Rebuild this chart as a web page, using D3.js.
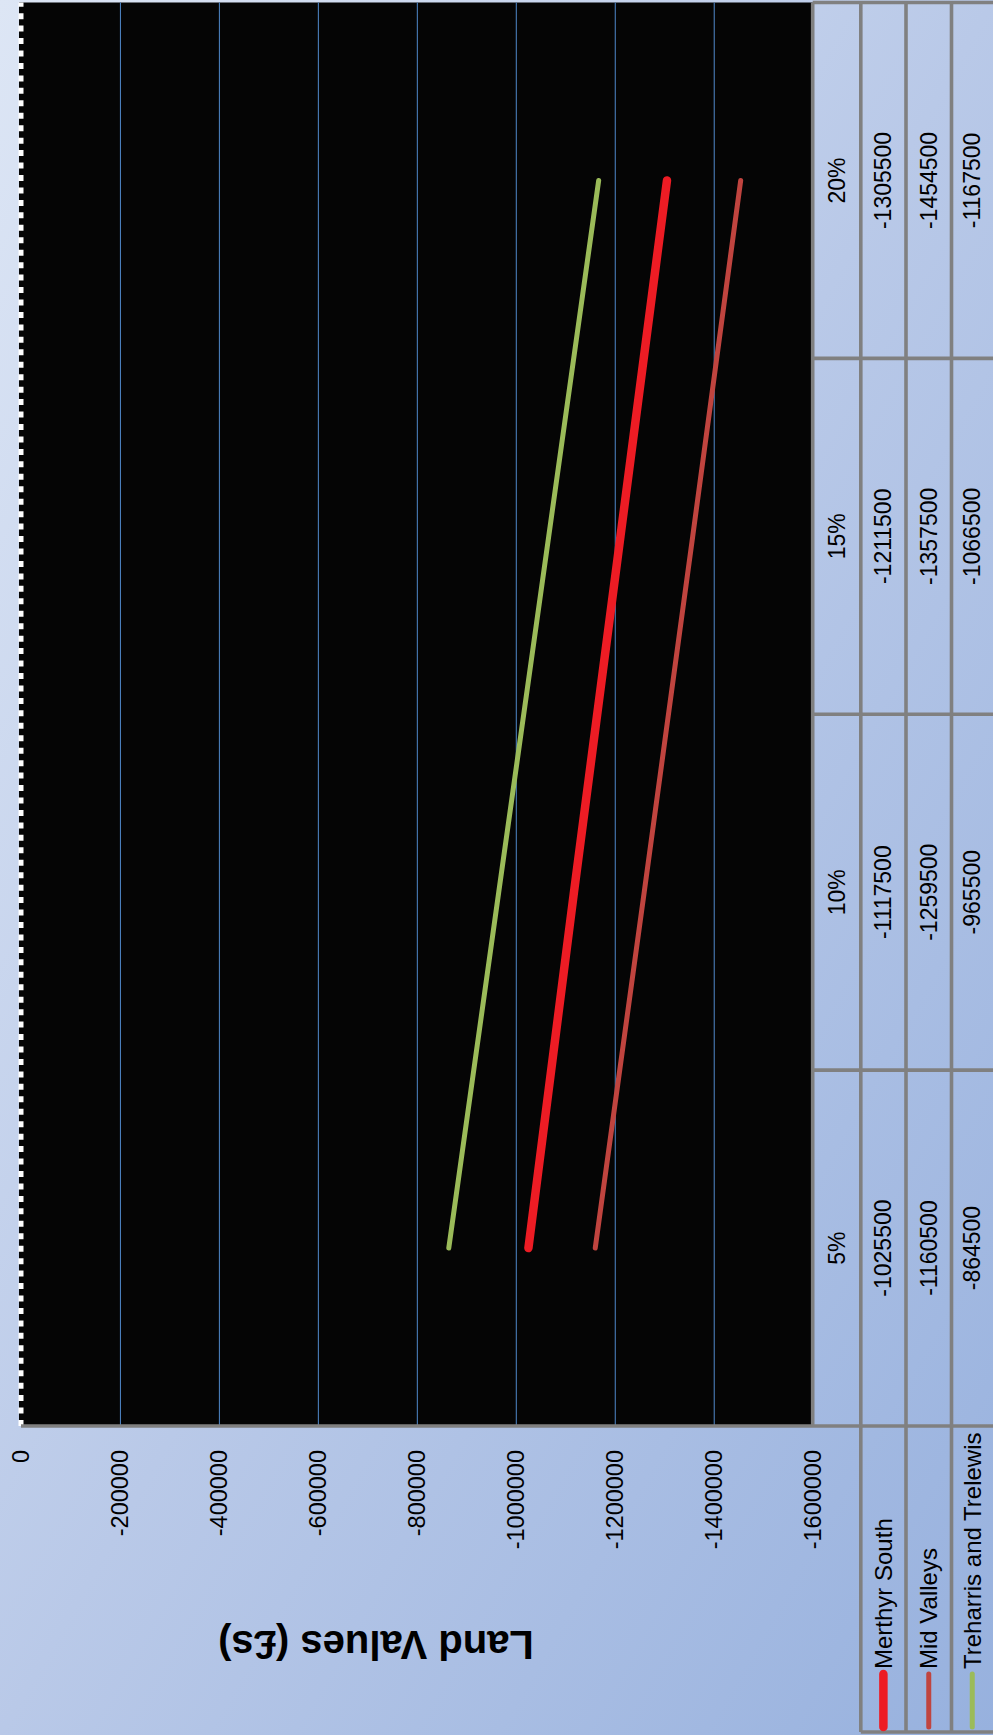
<!DOCTYPE html>
<html>
<head>
<meta charset="utf-8">
<script src="https://cdn.jsdelivr.net/npm/d3@7"></script>
<style>
  html, body { margin: 0; padding: 0; background: #c6d3ec; }
  svg { display: block; }
  text { font-family: "Liberation Sans", Arial, sans-serif; fill: #000; }
</style>
</head>
<body>
<svg id="chart" width="993" height="1735"></svg>
<script>
// Discount rate scenarios and residual land values (£) per area
const categories = ["5%", "10%", "15%", "20%"];
const seriesNames = ["Merthyr South", "Mid Valleys", "Treharris and Trelewis"];
const merthyrSouth = [-1025500, -1117500, -1211500, -1305500];
const midValleys = [-1160500, -1259500, -1357500, -1454500];
const treharrisTrelewis = [-864500, -965500, -1066500, -1167500];
const valueTicks = [0, -200000, -400000, -600000, -800000, -1000000, -1200000, -1400000, -1600000];
const axisTitle = "Land Values (£s)";

const seriesColors = ["#ED1C24", "#C0443F", "#9BBB59"];
const seriesWidths = [8.5, 5, 5];
const series = seriesNames.map((name, i) => ({
  name,
  values: [merthyrSouth, midValleys, treharrisTrelewis][i],
  color: seriesColors[i],
  width: seriesWidths[i]
}));

// plain integers with an ASCII hyphen for negatives
const fmt = d => String(d);

const PAGE_W = 993, PAGE_H = 1735;
// The chart is laid out landscape (W x H) and turned a quarter turn anticlockwise onto the page
const W = PAGE_H, H = PAGE_W;

const svg = d3.select("#chart");

// Background gradient
const defs = svg.append("defs");
const grad = defs.append("linearGradient").attr("id", "bg")
  .attr("x1", 0).attr("y1", 0).attr("x2", 1).attr("y2", 1);
grad.append("stop").attr("offset", 0).attr("stop-color", "#dde6f5");
grad.append("stop").attr("offset", 0.5).attr("stop-color", "#b9c9e8");
grad.append("stop").attr("offset", 1).attr("stop-color", "#97b1de");
svg.append("rect").attr("width", PAGE_W).attr("height", PAGE_H).attr("fill", "url(#bg)");

const g = svg.append("g").attr("transform", `translate(0,${PAGE_H}) rotate(-90)`);

// Plot geometry (landscape frame)
const plotLeft = 309, plotRight = 1732.5, plotTop = 19, plotBottom = 812.7;
const x = d3.scaleBand().domain(categories).range([plotLeft, plotRight]);
const y = d3.scaleLinear().domain([0, -1600000]).range([21, plotBottom]);

// Data table rows below the plot
const rowEdges = [plotBottom, 860.8, 906, 951.5, 993];
const legendLeft = 3;

// Plot area
g.append("rect")
  .attr("x", plotLeft).attr("y", plotTop)
  .attr("width", plotRight - plotLeft).attr("height", plotBottom - plotTop)
  .attr("fill", "#050505");

// Gridlines
g.append("g")
  .attr("transform", `translate(${plotLeft},0)`)
  .call(d3.axisLeft(y).tickValues(valueTicks.slice(1, -1)).tickSize(-(plotRight - plotLeft)).tickFormat(""))
  .call(s => s.select(".domain").remove())
  .call(s => s.selectAll(".tick line").attr("stroke", "#4A7EBB").attr("stroke-width", 1.1));

// Category axis line at zero
g.append("line")
  .attr("x1", plotLeft).attr("x2", plotRight)
  .attr("y1", y(0)).attr("y2", y(0))
  .attr("stroke", "#ffffff").attr("stroke-width", 5)
  .attr("stroke-dasharray", "6 6.45");

// Value axis labels
g.append("g")
  .attr("transform", `translate(${plotLeft},0)`)
  .call(d3.axisLeft(y).tickValues(valueTicks).tickSize(0).tickPadding(24).tickFormat(fmt))
  .call(s => s.select(".domain").remove())
  .call(s => s.selectAll("text")
    .attr("font-family", "'Liberation Sans', Arial, sans-serif")
    .attr("font-size", 23.5).attr("fill", "#000"));

// Axis title
g.append("text")
  .attr("transform", `translate(90,376) rotate(-90)`)
  .attr("text-anchor", "middle")
  .attr("dominant-baseline", "central")
  .attr("font-size", 40).attr("font-weight", "bold")
  .text(axisTitle);

// Data table grid
const border = g.append("g").attr("stroke", "#808080").attr("stroke-width", 3.6).attr("fill", "none");
// value axis line, continuing across the table
border.append("line").attr("x1", plotLeft).attr("x2", plotLeft).attr("y1", 21).attr("y2", H + 2);
// category separators
x.domain().slice(1).forEach(c => {
  border.append("line").attr("x1", x(c)).attr("x2", x(c)).attr("y1", plotBottom).attr("y2", H + 2);
});
border.append("line").attr("x1", plotRight).attr("x2", plotRight).attr("y1", plotBottom).attr("y2", H + 2);
// row separators
border.append("line").attr("x1", plotLeft).attr("x2", plotRight).attr("y1", rowEdges[0]).attr("y2", rowEdges[0]);
rowEdges.slice(1, 4).forEach(r => {
  border.append("line").attr("x1", legendLeft).attr("x2", plotRight).attr("y1", r).attr("y2", r);
});
border.append("line").attr("x1", legendLeft).attr("x2", legendLeft).attr("y1", rowEdges[1]).attr("y2", H + 2);

// Category header row
g.append("g").selectAll("text").data(categories).join("text")
  .attr("x", d => x(d) + x.bandwidth() / 2)
  .attr("y", (rowEdges[0] + rowEdges[1]) / 2)
  .attr("text-anchor", "middle").attr("dominant-baseline", "central")
  .attr("font-size", 23)
  .text(d => d);

// Series rows: legend key, name and values
series.forEach((s, i) => {
  const cy = (rowEdges[i + 1] + rowEdges[i + 2]) / 2;
  g.append("line")
    .attr("x1", 8).attr("x2", 61).attr("y1", cy).attr("y2", cy)
    .attr("stroke", s.color).attr("stroke-width", s.width).attr("stroke-linecap", "round");
  g.append("text")
    .attr("x", 66).attr("y", cy)
    .attr("dominant-baseline", "central")
    .attr("font-size", 24)
    .text(s.name);
  g.append("g").selectAll("text").data(s.values).join("text")
    .attr("x", (d, j) => x(categories[j]) + x.bandwidth() / 2)
    .attr("y", cy)
    .attr("text-anchor", "middle").attr("dominant-baseline", "central")
    .attr("font-size", 23)
    .text(fmt);
});

// Series lines
const line = d3.line()
  .x((d, j) => x(categories[j]) + x.bandwidth() / 2)
  .y(d => y(d));
g.append("g").selectAll("path").data(series).join("path")
  .attr("d", s => line(s.values))
  .attr("fill", "none")
  .attr("stroke", s => s.color)
  .attr("stroke-width", s => s.width)
  .attr("stroke-linecap", "round")
  .attr("stroke-linejoin", "round");
</script>
</body>
</html>
